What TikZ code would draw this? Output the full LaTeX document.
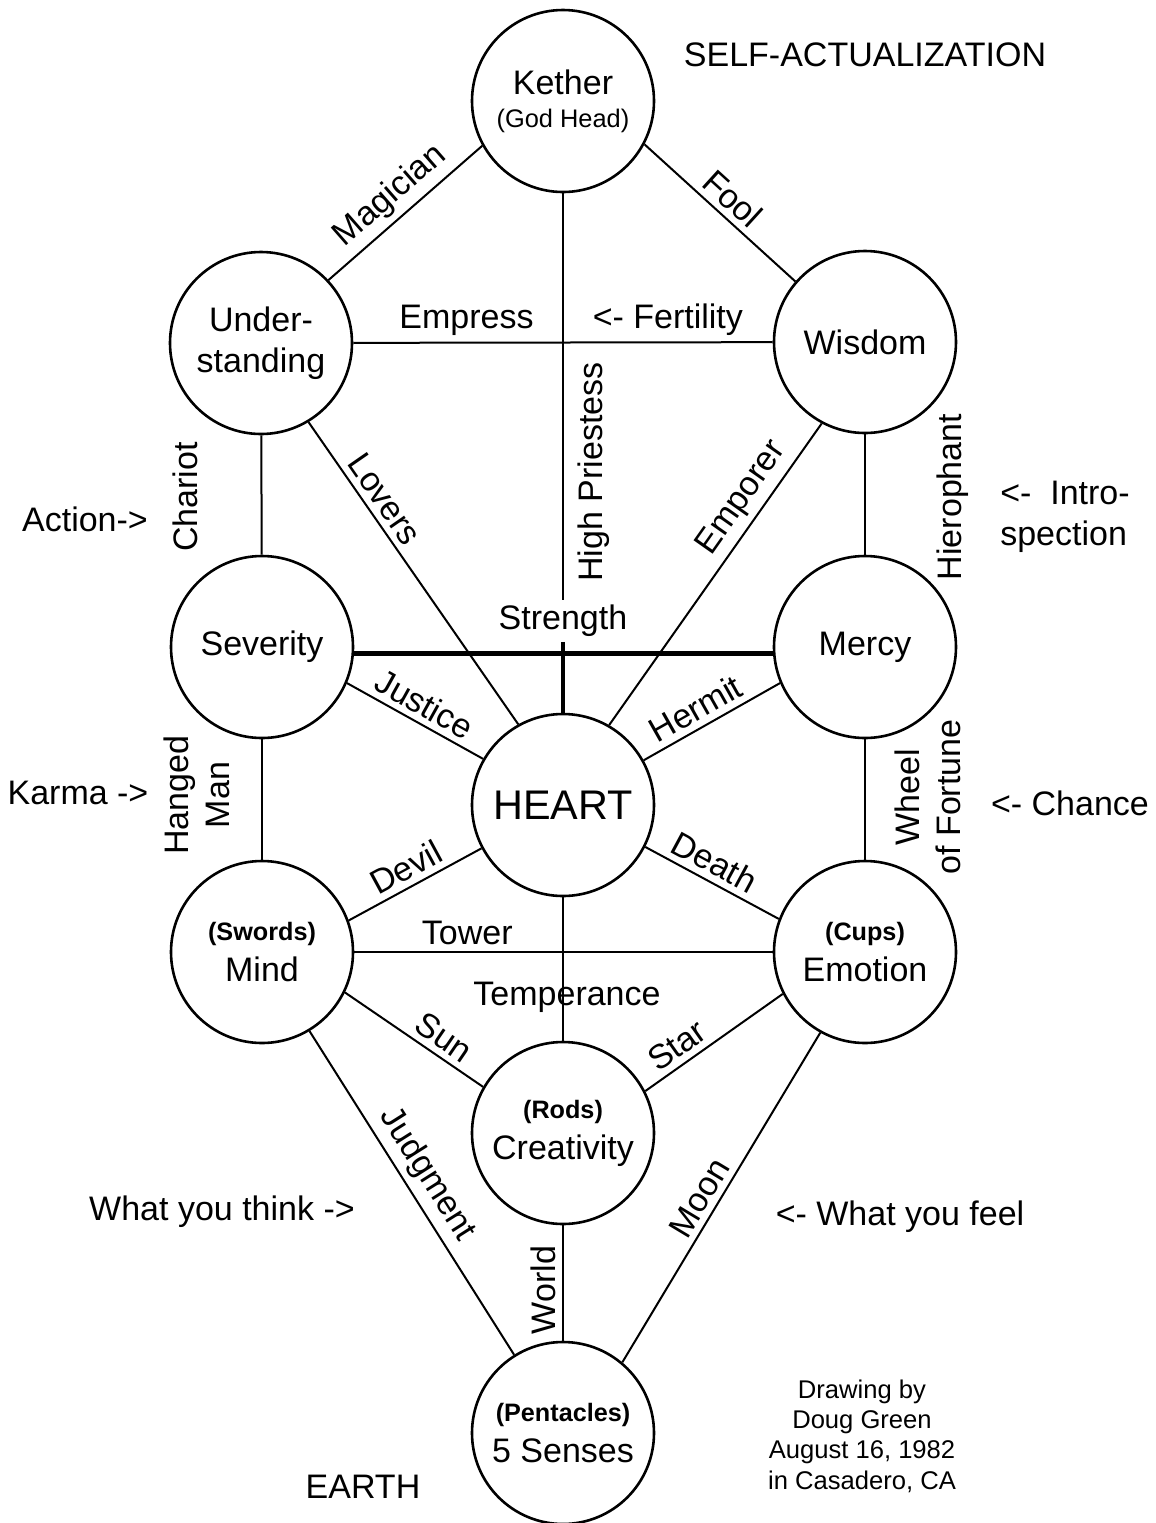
\documentclass[tikz,border=0pt]{standalone}
\usepackage{fontspec}
\setmainfont{Liberation Sans}
\newcommand\midfont{\fontsize{17}{20.5}\selectfont}
\newcommand\suitfont{\fontsize{12.6}{15}\selectfont\bfseries}
\newcommand\notefont{\fontsize{12.8}{15.2}\selectfont}
\begin{document}
\begin{tikzpicture}
  [x=0.5pt, y=-0.5pt, line width=1pt,
   sephira/.style={draw, circle, line width=1.3pt, minimum size=91pt, inner sep=0pt, fill=white, align=center, font=\midfont},
   card/.style={font=\midfont, inner sep=3pt},
   aside/.style={font=\midfont, align=center},
   pillar/.style={line width=2.4pt}]
  \useasboundingbox (0,0) rectangle (1156,1523);
  % the ten circles
  \node[sephira] (kether) at (563,101) {Kether\\[-4pt]{\fontsize{12.7}{15}\selectfont (God Head)}};
  \node[sephira] (under) at (261,343) {Under-\\standing};
  \node[sephira] (wisdom) at (865,342) {Wisdom};
  \node[sephira] (severity) at (262,647) {Severity};
  \node[sephira] (mercy) at (865,647) {Mercy};
  \node[sephira, font=\fontsize{20.7}{24}\selectfont] (heart) at (563,805) {HEART};
  \node[sephira] (mind) at (262,952) {{\suitfont (Swords)}\\Mind};
  \node[sephira] (emotion) at (865,952) {{\suitfont (Cups)}\\Emotion};
  \node[sephira] (creativity) at (563,1133) {{\suitfont (Rods)}\\Creativity};
  \node[sephira] (senses) at (563,1433) {{\suitfont (Pentacles)}\\5 Senses};
  \node[card, inner sep=2pt] (strength) at (563,621) {Strength};
  % paths
  \draw (under.43) -- node[card, sloped, above] {Magician} (kether.209);
  \draw (kether.332) -- node[card, sloped, above] {Fool} (wisdom.139);
  \draw (under) -- node[card, pos=.27, above] {Empress} node[card, pos=.75, above] {<- Fertility} (wisdom);
  \draw (kether) -- node[card, pos=.685, rotate=90, anchor=north, inner sep=7pt] {High Priestess} (strength);
  \draw[pillar] (strength) -- (heart);
  \draw[pillar] (severity.-4) -- (mercy.184);
  \draw (under) -- (severity);
  \draw (wisdom) -- (mercy);
  \draw (under.-59) -- node[card, pos=.29, sloped, above] {Lovers} (heart.119);
  \draw (heart.60) -- node[card, pos=.71, sloped, above] {Emporer} (wisdom.242);
  \draw (severity.-23) -- node[card, sloped, above] {Justice} (heart.150);
  \draw (heart.29) -- node[card, pos=.45, sloped, above] {Hermit} (mercy.203);
  \draw (severity) -- (mind);
  \draw (mercy) -- (emotion);
  \draw (mind.20) -- node[card, sloped, above] {Devil} (heart.208);
  \draw (heart.-27) -- node[card, pos=.45, sloped, above] {Death} (emotion.159);
  \draw (mind) -- node[card, pos=.27, above] {Tower} (emotion);
  \draw (heart) -- node[card, pos=.7, xshift=2pt] {Temperance} (creativity);
  \draw (mind.-26) -- node[card, pos=.64, sloped, above] {Sun} (creativity.150);
  \draw (creativity.27) -- node[card, pos=.31, sloped, above] {Star} (emotion.207);
  \draw (mind.-59) -- node[card, pos=.48, sloped, above] {Judgment} (senses.122);
  \draw (senses.50) -- node[card, pos=.47, sloped, above] {Moon} (emotion.241);
  \draw (creativity) -- node[card, pos=.56, rotate=90, anchor=south] {World} (senses);
  % labels of the side pillars
  \node[card, rotate=90] (chariot) at (185,497) {Chariot};
  \node[card, rotate=90] (hierophant) at (953,497) {Hierophant};
  \node[card, rotate=90, align=center] (hanged) at (197,795) {Hanged\\Man};
  \node[card, rotate=90, align=center] (wheel) at (928,797) {Wheel\\of Fortune};
  % side notes
  \node[aside] (top) at (865,55) {SELF-ACTUALIZATION};
  \node[aside] (action) at (85,519) {Action->};
  \node[aside, align=left] (intro) at (1065,517) {<-\ \ Intro-\\spection};
  \node[aside] (karma) at (78,793) {Karma ->};
  \node[aside] (chance) at (1070,803) {<- Chance};
  \node[aside] (think) at (222,1212) {What you think ->};
  \node[aside] (feel) at (900,1217) {<- What you feel};
  \node[aside] (earth) at (363,1487) {EARTH};
  \node[aside, font=\notefont] (credit) at (862,1436) {Drawing by\\Doug Green\\August 16, 1982\\in Casadero, CA};
\end{tikzpicture}
\end{document}
